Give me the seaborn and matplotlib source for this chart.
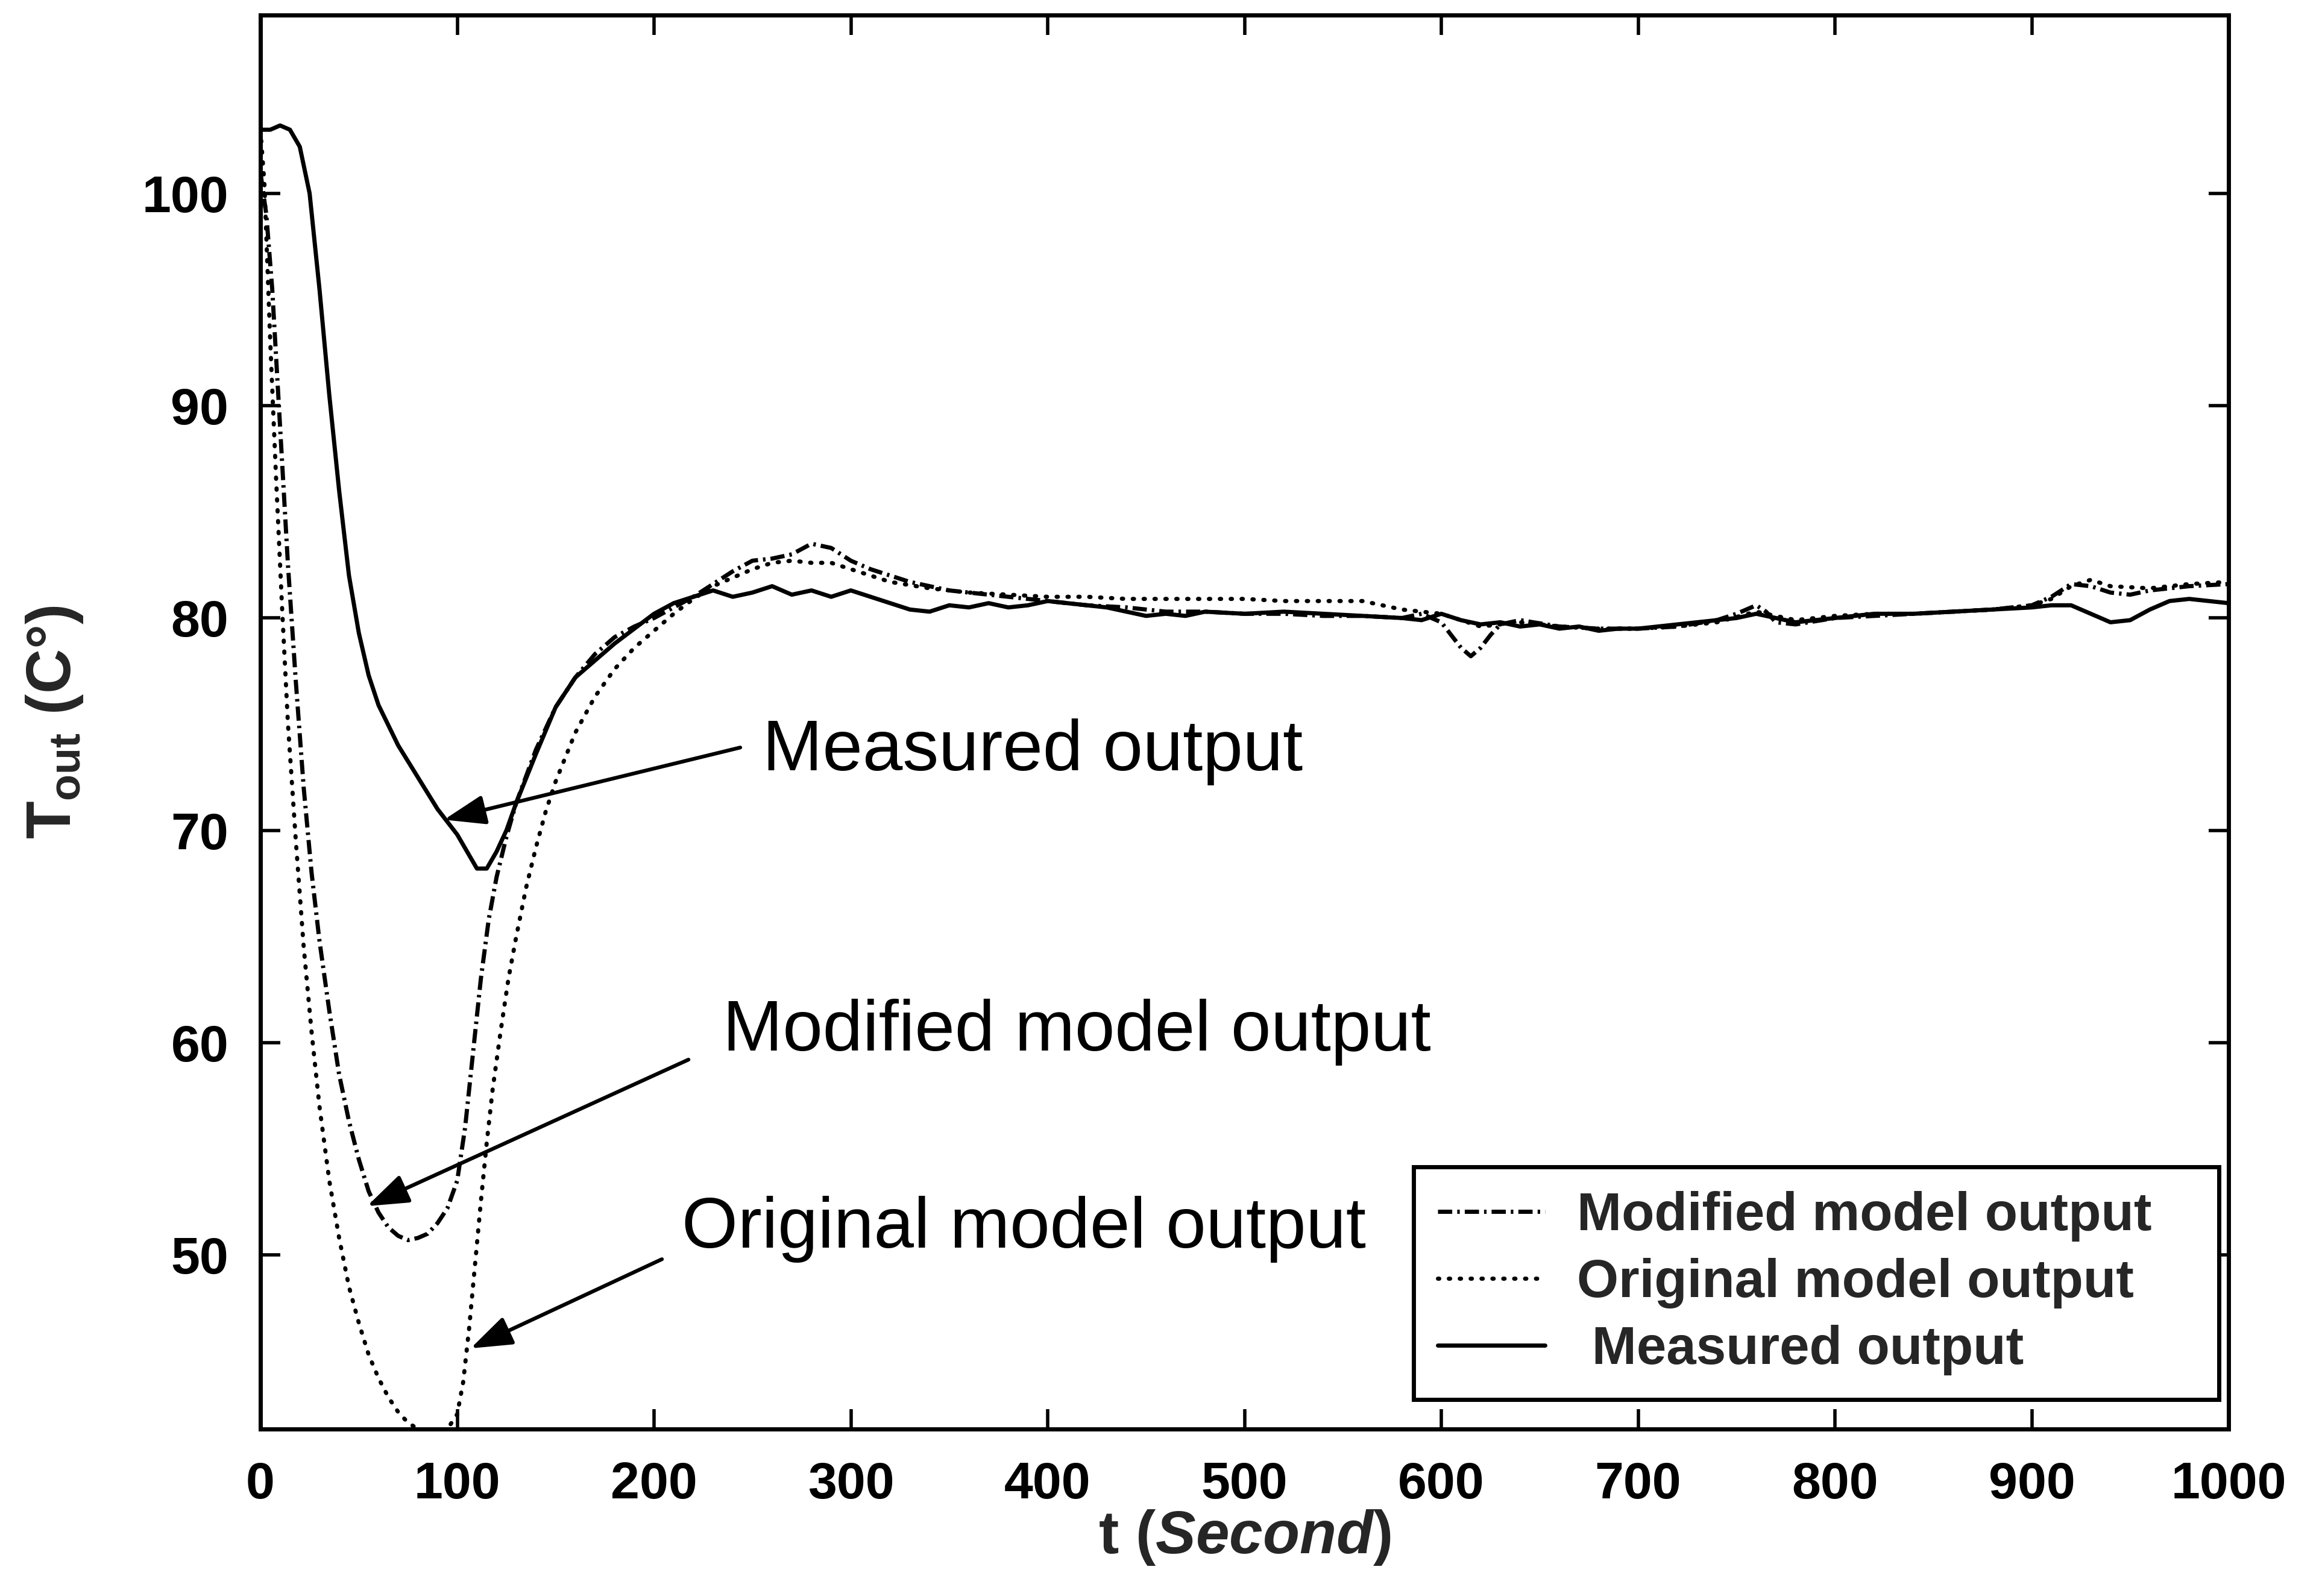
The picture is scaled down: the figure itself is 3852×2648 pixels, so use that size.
import matplotlib
matplotlib.use("Agg")
import matplotlib.pyplot as plt
import seaborn as sns
import pandas as pd
from matplotlib import font_manager

# ---------------- data ----------------
t_meas = [0, 5, 10, 15, 20, 25, 30, 35, 40, 45, 50, 55, 60, 70, 80, 90, 100, 105, 110, 115,
          120, 125, 130, 140, 150, 160, 170, 180, 190, 200, 210, 220, 230, 240, 250, 260,
          270, 280, 290, 300, 310, 320, 330, 340, 350, 360, 370, 380, 390, 400, 410, 420,
          430, 440, 450, 460, 470, 480, 500, 520, 540, 560, 580, 590, 600, 610, 620, 630,
          640, 650, 660, 670, 680, 690, 700, 710, 720, 730, 740, 750, 760, 770, 780, 790,
          800, 820, 840, 860, 880, 900, 910, 920, 930, 940, 950, 960, 970, 980, 990, 1000]
y_meas = [103.0, 103.0, 103.2, 103.0, 102.2, 100.0, 95.5, 90.5, 86.0, 82.0, 79.3, 77.3, 75.9,
          74.0, 72.5, 71.0, 69.8, 69.0, 68.2, 68.2, 69.0, 70.0, 71.3, 73.6, 75.8, 77.2, 78.0,
          78.8, 79.5, 80.2, 80.7, 81.0, 81.3, 81.0, 81.2, 81.5, 81.1, 81.3, 81.0, 81.3, 81.0,
          80.7, 80.4, 80.3, 80.6, 80.5, 80.7, 80.5, 80.6, 80.8, 80.7, 80.6, 80.5, 80.3, 80.1,
          80.2, 80.1, 80.3, 80.2, 80.3, 80.2, 80.1, 80.0, 79.9, 80.2, 79.9, 79.7, 79.8, 79.6,
          79.7, 79.5, 79.6, 79.4, 79.5, 79.5, 79.6, 79.7, 79.8, 79.9, 80.0, 80.2, 80.0, 79.8,
          79.9, 80.0, 80.2, 80.2, 80.3, 80.4, 80.5, 80.6, 80.6, 80.2, 79.8, 79.9, 80.4, 80.8,
          80.9, 80.8, 80.7]

t_mod = [0, 3, 6, 10, 14, 18, 22, 26, 30, 35, 40, 45, 50, 55, 60, 65, 70, 75, 80, 85, 90, 95,
         100, 104, 108, 112, 116, 120, 125, 130, 140, 150, 160, 170, 180, 190, 200, 210, 220,
         230, 240, 250, 260, 270, 280, 290, 300, 310, 320, 330, 340, 350, 360, 380, 400, 420,
         440, 460, 480, 500, 520, 540, 560, 580, 590, 600, 605, 610, 615, 620, 625, 630, 640,
         660, 680, 700, 720, 740, 750, 760, 765, 770, 780, 800, 820, 840, 860, 880, 900, 910,
         920, 930, 940, 950, 960, 980, 1000]
y_mod = [101.0, 99.0, 95.5, 89.0, 82.5, 77.0, 72.0, 68.0, 64.8, 61.5, 58.5, 56.3, 54.5, 53.0,
         52.0, 51.3, 50.9, 50.7, 50.8, 51.0, 51.5, 52.2, 53.5, 56.0, 59.5, 63.0, 65.8, 67.8,
         69.7, 71.3, 73.8, 75.8, 77.2, 78.3, 79.1, 79.6, 80.0, 80.5, 81.0, 81.6, 82.2, 82.7,
         82.8, 83.0, 83.5, 83.3, 82.7, 82.3, 82.0, 81.7, 81.5, 81.3, 81.2, 81.0, 80.8, 80.6,
         80.5, 80.3, 80.3, 80.2, 80.2, 80.1, 80.1, 80.0, 80.2, 79.8, 79.2, 78.6, 78.2, 78.6,
         79.2, 79.7, 79.9, 79.6, 79.5, 79.5, 79.6, 79.9, 80.2, 80.6, 80.3, 79.8, 79.7, 80.0,
         80.1, 80.2, 80.3, 80.4, 80.6, 81.0, 81.6, 81.5, 81.2, 81.1, 81.3, 81.5, 81.6]

t_orig = [0, 2, 5, 8, 11, 14, 18, 22, 26, 30, 35, 40, 45, 50, 55, 60, 65, 70, 75, 80, 85, 90,
          95, 100, 103, 106, 109, 112, 115, 118, 122, 126, 130, 135, 140, 145, 150, 160, 170,
          180, 190, 200, 210, 220, 230, 240, 250, 260, 270, 280, 290, 300, 310, 320, 340, 360,
          380, 400, 420, 440, 460, 480, 500, 520, 540, 560, 580, 600, 620, 640, 660, 680, 700,
          720, 740, 760, 780, 800, 820, 840, 860, 880, 900, 910, 920, 930, 940, 960, 980, 1000]
y_orig = [103.0, 100.5, 93.0, 86.5, 80.5, 75.0, 69.5, 64.5, 60.5, 57.0, 53.5, 50.8, 48.5, 46.8,
          45.3, 44.2, 43.3, 42.6, 42.1, 41.8, 41.6, 41.6, 41.8, 42.5, 44.0, 46.5, 49.5, 52.5,
          55.3, 57.8, 60.5, 63.0, 65.0, 67.3, 69.2, 70.9, 72.3, 74.6, 76.3, 77.6, 78.6, 79.4,
          80.2, 80.9, 81.5, 81.9, 82.3, 82.6, 82.7, 82.6, 82.6, 82.3, 82.0, 81.7, 81.4, 81.2,
          81.1, 81.0, 81.0, 80.9, 80.9, 80.9, 80.9, 80.8, 80.8, 80.8, 80.4, 80.2, 79.6, 79.8,
          79.6, 79.5, 79.5, 79.6, 79.8, 80.3, 79.9, 80.1, 80.2, 80.2, 80.3, 80.4, 80.6, 80.9,
          81.5, 81.8, 81.5, 81.4, 81.6, 81.7]

series_labels = ["Modified model output", "Original model output", " Measured output"]
x_ticks = [0, 100, 200, 300, 400, 500, 600, 700, 800, 900, 1000]
y_ticks = [50, 60, 70, 80, 90, 100]
annot_texts = ["Measured output", "Modified model output", "Original model output"]

# ---------------- style ----------------
sns.set_theme(style="ticks")
avail = {f.name for f in font_manager.fontManager.ttflist}
base_font = "Liberation Sans" if "Liberation Sans" in avail else "DejaVu Sans"
plt.rcParams["font.family"] = [base_font, "DejaVu Sans"]
plt.rcParams["mathtext.fontset"] = "custom"
plt.rcParams["mathtext.rm"] = base_font + ":bold"
plt.rcParams["mathtext.bf"] = base_font + ":bold"
plt.rcParams["mathtext.it"] = base_font + ":bold:italic"

DPI = 100
fig = plt.figure(figsize=(3852 / DPI, 2648 / DPI), dpi=DPI, facecolor="white")
ax = fig.add_axes([432 / 3852, 1 - 2371 / 2648, (3697 - 432) / 3852, (2371 - 25) / 2648])
ax.set_facecolor("white")

lw = 5.0
sns.lineplot(x=t_mod, y=y_mod, ax=ax, color="black", lw=lw, label=series_labels[0],
             estimator=None, sort=False)
sns.lineplot(x=t_orig, y=y_orig, ax=ax, color="black", lw=lw, label=series_labels[1],
             estimator=None, sort=False)
sns.lineplot(x=t_meas, y=y_meas, ax=ax, color="black", lw=lw, label=series_labels[2],
             estimator=None, sort=False)
lines = ax.get_lines()
lines[0].set_dashes([3.4, 1.2, 0.6, 1.2])
lines[1].set_dashes([0.3, 2.3])
lines[1].set_dash_capstyle("round")
lines[2].set_linestyle("-")

ax.set_xlim(0, 1000)
ax.set_ylim(41.8, 108.4)
ax.set_xticks(x_ticks)
ax.set_yticks(y_ticks)
ax.set_xticklabels([str(v) for v in x_ticks])
ax.set_yticklabels([str(v) for v in y_ticks])

for s in ax.spines.values():
    s.set_visible(True)
    s.set_linewidth(5)
    s.set_color("black")
ax.tick_params(axis="both", which="major", direction="in", length=24, width=4,
               top=True, right=True, labelsize=62, colors="black", pad=38)
for lab in ax.get_xticklabels() + ax.get_yticklabels():
    lab.set_fontweight("bold")

ax.set_xlabel(r"$\mathbf{t}$ $\mathit{(Second)}$", fontsize=72)
ax.xaxis.set_label_coords(0.5, -0.056)
ax.xaxis.label.set_va("top")
ax.set_ylabel(r"$\mathbf{T_{out}}$ (C°)", fontsize=74, fontweight="bold")
ax.yaxis.set_label_coords(-0.089, 0.5)

# annotations
arrow_kw = dict(arrowstyle="-|>,head_length=0.7,head_width=0.25", color="black", lw=4.5,
                shrinkA=0, shrinkB=0, mutation_scale=60)
ann = [
    (annot_texts[0], (255, 73.7), (243.8, 73.9), (93.3, 70.5)),
    (annot_texts[1], (235, 60.5), (217.5, 59.2), (54.2, 52.3)),
    (annot_texts[2], (214, 51.2), (204, 49.8), (106.8, 45.6)),
]
for txt, tpos, tail, head in ann:
    ax.annotate("", xy=head, xytext=tail, arrowprops=arrow_kw)
    ax.text(tpos[0], tpos[1], txt, fontsize=86, ha="left", va="center", color="black")

leg = ax.legend(loc="lower left", bbox_to_anchor=(0.586, 0.021, 0.409, 0.167), mode="expand",
                frameon=True, fancybox=False, framealpha=1, edgecolor="black",
                handlelength=2.0, handletextpad=0.6, labelspacing=0.3, borderpad=0.45,
                borderaxespad=0,
                prop={"family": base_font, "weight": "bold", "size": 64})
leg.get_frame().set_linewidth(5)
leg.get_frame().set_facecolor("white")

fig.savefig("out.png", dpi=DPI, facecolor="white")
